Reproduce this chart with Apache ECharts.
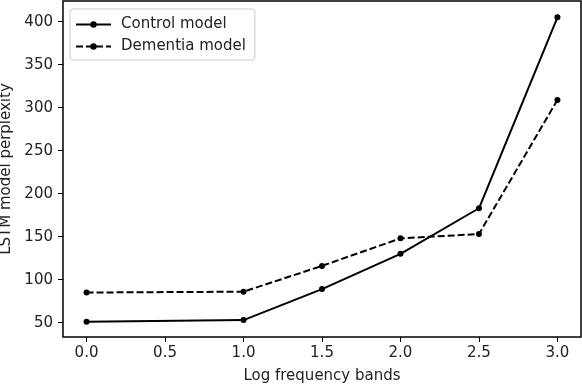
<!DOCTYPE html>
<html>
<head>
<meta charset="utf-8">
<script src="https://cdn.jsdelivr.net/npm/echarts@6/dist/echarts.min.js"></script>
<style>
  html, body { margin: 0; padding: 0; background: #fff; }
  #chart { width: 582px; height: 384px; }
</style>
</head>
<body>
<div id="chart"></div>
<script>
// data
const bands = [0.0, 1.0, 1.5, 2.0, 2.5, 3.0];
const controlValues = [51, 53, 89, 130, 183, 405];
const dementiaValues = [85, 86, 116, 148, 153, 309];
const xTicks = [0, 0.5, 1, 1.5, 2, 2.5, 3];
const yTicks = [50, 100, 150, 200, 250, 300, 350, 400];

const font = "DejaVu Sans";
const textColor = "#222";

function pairs(ys) {
	return bands.map((x, i) => [x, ys[i]]);
}

const chart = echarts.init(document.getElementById("chart"));
chart.setOption({
	animation: false,
	grid: {
		left: 63,
		right: 1,
		top: 1,
		bottom: 47,
		outerBoundsMode: "none",
		containLabel: false,
		show: true,
		borderColor: "#000",
		borderWidth: 1.5,
	},
	legend: {
		orient: "vertical",
		left: 70,
		top: 9,
		itemWidth: 35,
		itemHeight: 8,
		itemGap: 7,
		padding: [8, 9, 6, 5],
		borderColor: "#ccc",
		borderWidth: 1,
		borderRadius: 3,
		textStyle: { fontFamily: font, fontSize: 15, color: textColor, padding: [0, 0, 0, 5] },
		data: ["Control model", "Dementia model"],
	},
	xAxis: {
		type: "value",
		min: -0.15,
		max: 3.15,
		name: "Log frequency bands",
		nameLocation: "middle",
		nameGap: 32,
		nameTextStyle: { fontFamily: font, fontSize: 15, color: textColor },
		axisLine: { show: false, onZero: false },
		splitLine: { show: false },
		axisTick: {
			show: true,
			customValues: xTicks,
			length: 5,
			lineStyle: { color: "#000" },
		},
		axisLabel: {
			customValues: xTicks,
			margin: 9,
			fontFamily: font,
			fontSize: 15,
			color: textColor,
			formatter: (v) => v.toFixed(1),
		},
	},
	yAxis: {
		type: "value",
		min: 33.3,
		max: 424,
		name: "LSTM model perplexity",
		nameLocation: "middle",
		nameGap: 46,
		nameTextStyle: { fontFamily: font, fontSize: 15, color: textColor },
		axisLine: { show: false, onZero: false },
		splitLine: { show: false },
		axisTick: {
			show: true,
			customValues: yTicks,
			length: 5,
			lineStyle: { color: "#000" },
		},
		axisLabel: {
			customValues: yTicks,
			margin: 10,
			fontFamily: font,
			fontSize: 15,
			color: textColor,
		},
	},
	series: [
		{
			name: "Control model",
			type: "line",
			data: pairs(controlValues),
			symbol: "circle",
			symbolSize: 6,
			color: "#000",
			lineStyle: { color: "#000", width: 2 },
			itemStyle: { color: "#000" },
		},
		{
			name: "Dementia model",
			type: "line",
			data: pairs(dementiaValues),
			symbol: "circle",
			symbolSize: 6,
			color: "#000",
			lineStyle: { color: "#000", width: 2, type: [7, 3] },
			itemStyle: { color: "#000" },
		},
	],
});
</script>
</body>
</html>
